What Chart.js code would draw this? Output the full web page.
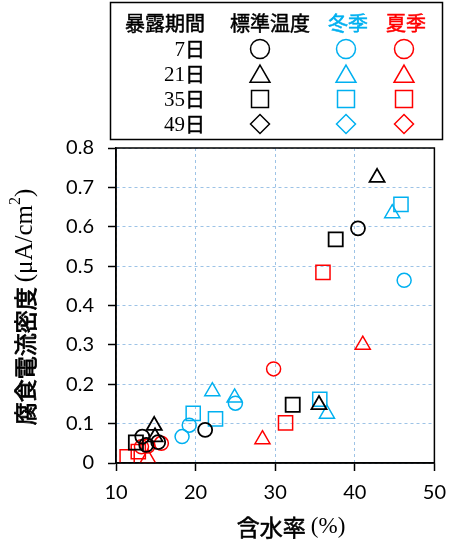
<!DOCTYPE html>
<html>
<head>
<meta charset="utf-8">
<script src="https://cdn.jsdelivr.net/npm/chart.js@4/dist/chart.umd.min.js"></script>
<style>
  html, body { margin: 0; padding: 0; background: #fff; }
  #wrap { width: 456px; height: 542px; }
</style>
</head>
<body>
<div id="wrap"><canvas id="c" width="456" height="542"></canvas></div>
<script>
// 暴露期間 and test conditions
const periods = ['7日', '21日', '35日', '49日'];
const conditions = ['標準温度', '冬季', '夏季'];
const condColors = ['#000000', '#00B0F0', '#FF0000'];
const periodStyles = ['circle', 'triangle', 'rect', 'rectRot'];

// [含水率 (%), 腐食電流密度 (μA/cm²)]
const std7  = [[13.3, 0.067], [13.8, 0.046], [15.3, 0.053], [21.2, 0.084], [40.4, 0.596]];
const std21 = [[14.8, 0.095], [14.9, 0.066], [35.5, 0.148], [42.8, 0.725]];
const std35 = [[12.5, 0.052], [32.2, 0.148], [37.6, 0.568]];
const std49 = [];
const win7  = [[18.3, 0.067], [19.2, 0.096], [25.0, 0.152], [46.2, 0.464]];
const win21 = [[22.1, 0.182], [24.9, 0.166], [36.5, 0.125], [44.7, 0.634]];
const win35 = [[19.7, 0.126], [22.5, 0.112], [35.6, 0.162], [45.8, 0.657]];
const win49 = [];
const sum7  = [[13.2, 0.041], [14.0, 0.043], [15.7, 0.050], [29.8, 0.239]];
const sum21 = [[14.0, 0.012], [28.4, 0.060], [41.0, 0.300]];
const sum35 = [[11.4, 0.016], [12.8, 0.029], [31.3, 0.102], [36.0, 0.484]];
const sum49 = [];

const seriesByCondition = [
  [std7, std21, std35, std49],
  [win7, win21, win35, win49],
  [sum7, sum21, sum35, sum49]
];

// axis ticks
const xTicks = [10, 20, 30, 40, 50];
const yTicks = [0, 0.1, 0.2, 0.3, 0.4, 0.5, 0.6, 0.7, 0.8];

const radiusFor = { circle: 7, triangle: 8.7, rect: 10, rectRot: 8 };
const legendRadius = { circle: 9.5, triangle: 11.5, rect: 12, rectRot: 9.5 };

const datasets = [];
conditions.forEach((cond, ci) => {
  periods.forEach((p, pi) => {
    const style = periodStyles[pi];
    datasets.push({
      label: cond + ' ' + p,
      data: seriesByCondition[ci][pi].map(([x, y]) => ({ x, y })),
      pointStyle: style,
      pointRadius: radiusFor[style],
      pointHoverRadius: radiusFor[style],
      borderColor: condColors[ci],
      backgroundColor: 'rgba(0,0,0,0)',
      pointBorderWidth: ci === 0 ? 1.8 : 1.5,
      showLine: false
    });
  });
});

const CJK = '"Noto Sans CJK JP", "Noto Sans CJK SC", sans-serif';
const SERIF = '"Liberation Serif", "DejaVu Serif", serif';
const TICKFONT = 'Lato';

// draws a line of mixed-font text centred on (cx, cy); "stroke" thickens a run slightly
function drawRuns(ctx, runs, cx, cy) {
  let total = 0;
  runs.forEach(r => { ctx.font = r.font; r.w = ctx.measureText(r.text).width; total += r.w; });
  let x = cx - total / 2;
  ctx.textAlign = 'left';
  ctx.textBaseline = 'middle';
  runs.forEach(r => {
    ctx.font = r.font;
    ctx.fillStyle = r.color || '#000';
    ctx.fillText(r.text, x, cy + (r.dy || 0));
    if (r.stroke) {
      ctx.strokeStyle = r.color || '#000';
      ctx.lineWidth = r.stroke;
      ctx.strokeText(r.text, x, cy + (r.dy || 0));
    }
    x += r.w;
  });
}

function marker(ctx, style, r, x, y, color) {
  ctx.save();
  ctx.strokeStyle = color;
  ctx.fillStyle = 'rgba(0,0,0,0)';
  ctx.lineWidth = 1.5;
  if (Chart.helpers && Chart.helpers.drawPoint) {
    Chart.helpers.drawPoint(ctx, { pointStyle: style, radius: r, borderWidth: 1.5, rotation: 0 }, x, y);
  }
  ctx.restore();
}

const decor = {
  id: 'decor',
  afterDraw(chart) {
    const ctx = chart.ctx;
    const a = chart.chartArea;
    ctx.save();

    // plot frame
    ctx.strokeStyle = '#000';
    ctx.lineWidth = 1.5;
    ctx.strokeRect(a.left, a.top, a.right - a.left, a.bottom - a.top);

    // legend table
    ctx.lineWidth = 1.5;
    ctx.strokeRect(110.5, 2.5, 332, 137);
    const headY = 23;
    const headCols = [165, 270, 348, 406];
    const headTexts = ['暴露期間', '標準温度', '冬季', '夏季'];
    const headColors = ['#000', '#000', '#00B0F0', '#FF0000'];
    headTexts.forEach((t, i) => {
      drawRuns(ctx, [{ text: t, font: '20px ' + CJK, color: headColors[i], stroke: 0.5 }], headCols[i], headY);
    });

    const rowY = [49, 74, 99, 124];
    const markX = [260, 346, 404];
    periods.forEach((p, pi) => {
      const num = p.replace('日', '');
      ctx.textBaseline = 'middle';
      ctx.textAlign = 'right';
      ctx.font = '20px ' + CJK;
      const dayW = ctx.measureText('日').width;
      ctx.fillStyle = '#000';
      ctx.fillText('日', 205, rowY[pi]);
      ctx.strokeStyle = '#000';
      ctx.lineWidth = 0.5;
      ctx.strokeText('日', 205, rowY[pi]);
      ctx.font = '21px ' + SERIF;
      ctx.fillText(num, 205 - dayW, rowY[pi] + 1);
      const style = periodStyles[pi];
      const dy = style === 'triangle' ? 2.5 : 0;
      markX.forEach((mx, ci) => marker(ctx, style, legendRadius[style], mx, rowY[pi] + dy, condColors[ci]));
    });

    // axis titles
    drawRuns(ctx, [
      { text: '含水率 ', font: '23px ' + CJK, stroke: 0.6 },
      { text: '(%)', font: '23px ' + SERIF }
    ], 291, 527);

    ctx.save();
    ctx.translate(25, 307);
    ctx.rotate(-Math.PI / 2);
    drawRuns(ctx, [
      { text: '腐食電流密度 ', font: '23px ' + CJK, stroke: 0.8 },
      { text: '(μA/cm', font: '25px ' + SERIF },
      { text: '2', font: '16px ' + SERIF, dy: -9 },
      { text: ')', font: '25px ' + SERIF }
    ], 0, 0);
    ctx.restore();

    ctx.restore();
  }
};

new Chart(document.getElementById('c'), {
  type: 'scatter',
  data: { datasets },
  options: {
    responsive: false,
    devicePixelRatio: 1,
    animation: false,
    layout: { padding: { left: 0, right: 19, top: 148, bottom: 0 } },
    plugins: { legend: { display: false }, tooltip: { enabled: false } },
    scales: {
      x: {
        type: 'linear',
        min: xTicks[0],
        max: xTicks[xTicks.length - 1],
        afterBuildTicks: s => { s.ticks = xTicks.map(v => ({ value: v })); },
        afterFit: s => { s.height = 79; },
        ticks: { color: '#000', font: { family: TICKFONT, size: 20 }, padding: 10, maxRotation: 0 },
        grid: { color: '#9DC3E6', lineWidth: 1, tickColor: '#000', tickLength: 8, tickWidth: 1.5 },
        border: { display: true, color: '#000', width: 1.5, dash: [3, 3] },
        title: { display: false }
      },
      y: {
        type: 'linear',
        min: yTicks[0],
        max: yTicks[yTicks.length - 1],
        afterBuildTicks: s => { s.ticks = yTicks.map(v => ({ value: v })); },
        afterFit: s => { s.width = 116; },
        ticks: {
          color: '#000', font: { family: TICKFONT, size: 20 }, padding: 14,
          callback: v => (v === 0 ? '0' : v.toFixed(1))
        },
        grid: { color: '#9DC3E6', lineWidth: 1, tickColor: '#000', tickLength: 8, tickWidth: 1.5 },
        border: { display: true, color: '#000', width: 1.5, dash: [3, 3] },
        title: { display: false }
      }
    }
  },
  plugins: [decor]
});
</script>
</body>
</html>
